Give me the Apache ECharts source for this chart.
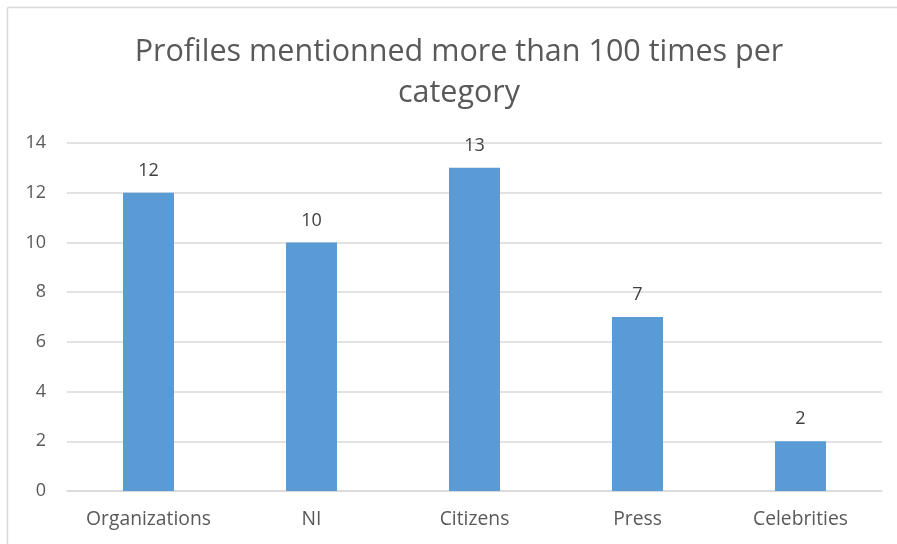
<!DOCTYPE html>
<html><head><meta charset="utf-8">
<script src="https://cdn.jsdelivr.net/npm/echarts@6/dist/echarts.min.js"></script>
<style>html,body{margin:0;padding:0;background:#fff;overflow:hidden}#c{width:897px;height:544px}</style>
</head><body><div id="c"></div>
<script>
const categories = ['Organizations', 'NI', 'Citizens', 'Press', 'Celebrities'];
const values = [12, 10, 13, 7, 2];
const titleText = 'Profiles mentionned more than 100 times per\ncategory';
const FONT = '"Open Sans", sans-serif';
const chart = echarts.init(document.getElementById('c'), null, {renderer: 'canvas'});
chart.setOption({
  backgroundColor: '#fff',
  animation: false,
  graphic: [
    {type: 'line', shape: {x1: 7.5, y1: 7.5, x2: 897, y2: 7.5}, style: {stroke: '#D9D9D9', lineWidth: 1.5}, silent: true},
    {type: 'line', shape: {x1: 7.5, y1: 7.5, x2: 7.5, y2: 544}, style: {stroke: '#D9D9D9', lineWidth: 1.5}, silent: true}
  ],
  title: {
    text: titleText, left: 454, top: 27, textAlign: 'center',
    textStyle: {fontFamily: FONT, fontSize: 30.5, fontWeight: 'normal', color: '#595959', lineHeight: 41}
  },
  grid: {left: 67, right: 15, top: 143, bottom: 53, containLabel: false},
  xAxis: {
    type: 'category', data: categories,
    axisLine: {lineStyle: {color: '#D9D9D9', width: 1.5}},
    axisTick: {show: false},
    axisLabel: {fontFamily: FONT, fontSize: 19.3, color: '#595959', margin: 19}
  },
  yAxis: {
    type: 'value', min: 0, max: 14, interval: 2,
    axisLine: {show: false}, axisTick: {show: false},
    splitLine: {lineStyle: {color: '#D9D9D9', width: 1.5}},
    axisLabel: {fontFamily: FONT, fontSize: 18, color: '#595959', margin: 21}
  },
  series: [{
    type: 'bar', data: values, barWidth: 51,
    itemStyle: {color: '#5B9BD5'},
    label: {show: true, position: 'top', distance: 13, fontFamily: FONT, fontSize: 18, color: '#404040'}
  }]
});
</script></body></html>
